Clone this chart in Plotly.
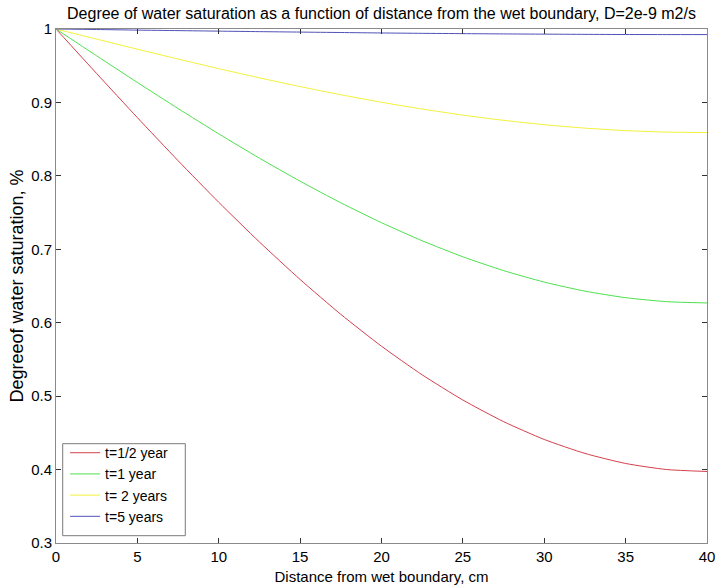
import plotly.graph_objects as go

# Distance from the wet boundary, cm
distance_cm = [0, 2.5, 5, 7.5, 10, 12.5, 15, 17.5, 20, 22.5, 25, 27.5, 30, 32.5, 35, 37.5, 40]

# Degree of water saturation at each distance
sat_half_year = [1.0, 0.9393, 0.8793, 0.8207, 0.7640, 0.7099, 0.6589, 0.6114, 0.5680,
                 0.5290, 0.4947, 0.4653, 0.4410, 0.4220, 0.4083, 0.4001, 0.3974]
sat_1_year = [1.0, 0.9634, 0.9272, 0.8917, 0.8572, 0.8241, 0.7927, 0.7633, 0.7362,
              0.7116, 0.6898, 0.6710, 0.6553, 0.6430, 0.6341, 0.6287, 0.6269]
sat_2_years = [1.0, 0.9862, 0.9725, 0.9591, 0.9460, 0.9335, 0.9216, 0.9105, 0.9002,
               0.8910, 0.8827, 0.8756, 0.8697, 0.8650, 0.8616, 0.8596, 0.8589]
sat_5_years = [1.0, 0.9993, 0.9985, 0.9978, 0.9971, 0.9964, 0.9958, 0.9952, 0.9946,
               0.9941, 0.9937, 0.9933, 0.9930, 0.9927, 0.9925, 0.9924, 0.9924]

series = [
    ("t=1/2 year", sat_half_year, "#d4404c"),
    ("t=1 year", sat_1_year, "#4ee04e"),
    ("t= 2 years", sat_2_years, "#f2f23a"),
    ("t=5 years", sat_5_years, "#5050b8"),
]

x_ticks = [0, 5, 10, 15, 20, 25, 30, 35, 40]
y_ticks = [0.3, 0.4, 0.5, 0.6, 0.7, 0.8, 0.9, 1.0]
y_tick_text = ["0.3", "0.4", "0.5", "0.6", "0.7", "0.8", "0.9", "1"]

FONT = "Arial, Liberation Sans, sans-serif"

fig = go.Figure()
for name, values, color in series:
    fig.add_trace(go.Scatter(
        x=distance_cm, y=values, mode="lines", name=name,
        line=dict(color=color, width=1, shape="spline", smoothing=0.6),
    ))

axis_common = dict(
    showgrid=False, zeroline=False, automargin=False,
    showline=True, linecolor="#8a8a8a", linewidth=1, mirror="ticks",
    ticks="inside", ticklen=5, tickcolor="#333333", tickwidth=1,
    tickfont=dict(family=FONT, size=15, color="#000000"),
)

fig.update_layout(
    width=716, height=585,
    margin=dict(l=56, r=9, t=29, b=42),
    paper_bgcolor="white", plot_bgcolor="white",
    font=dict(family=FONT, size=15, color="#000000"),
    title=dict(
        text="Degree of water saturation as a function of distance from the wet boundary, D=2e-9 m2/s",
        x=0.5, xref="paper", xanchor="center",
        y=1 - 13 / 585, yref="container", yanchor="middle",
        font=dict(family=FONT, size=16),
    ),
    xaxis=dict(
        range=[0, 40], tickvals=x_ticks,
        title=dict(text="Distance from wet boundary, cm", font=dict(family=FONT, size=15), standoff=8),
        **axis_common,
    ),
    yaxis=dict(
        range=[0.3, 1.0], tickvals=y_ticks, ticktext=y_tick_text,
        title=dict(text="Degreeof water saturation, %", font=dict(family=FONT, size=18), standoff=2),
        **axis_common,
    ),
    legend=dict(
        x=0.014, y=0.206, xanchor="left", yanchor="top",
        bgcolor="rgba(0,0,0,0)", borderwidth=0,
        font=dict(family=FONT, size=14),
        tracegroupgap=0,
    ),
    shapes=[dict(
        type="rect", xref="paper", yref="paper",
        x0=0.0103, x1=0.1986, y0=0.0142, y1=0.1932,
        line=dict(color="#7a7a7a", width=1), fillcolor="white", layer="below",
    )],
)

fig.write_html("out.html")
